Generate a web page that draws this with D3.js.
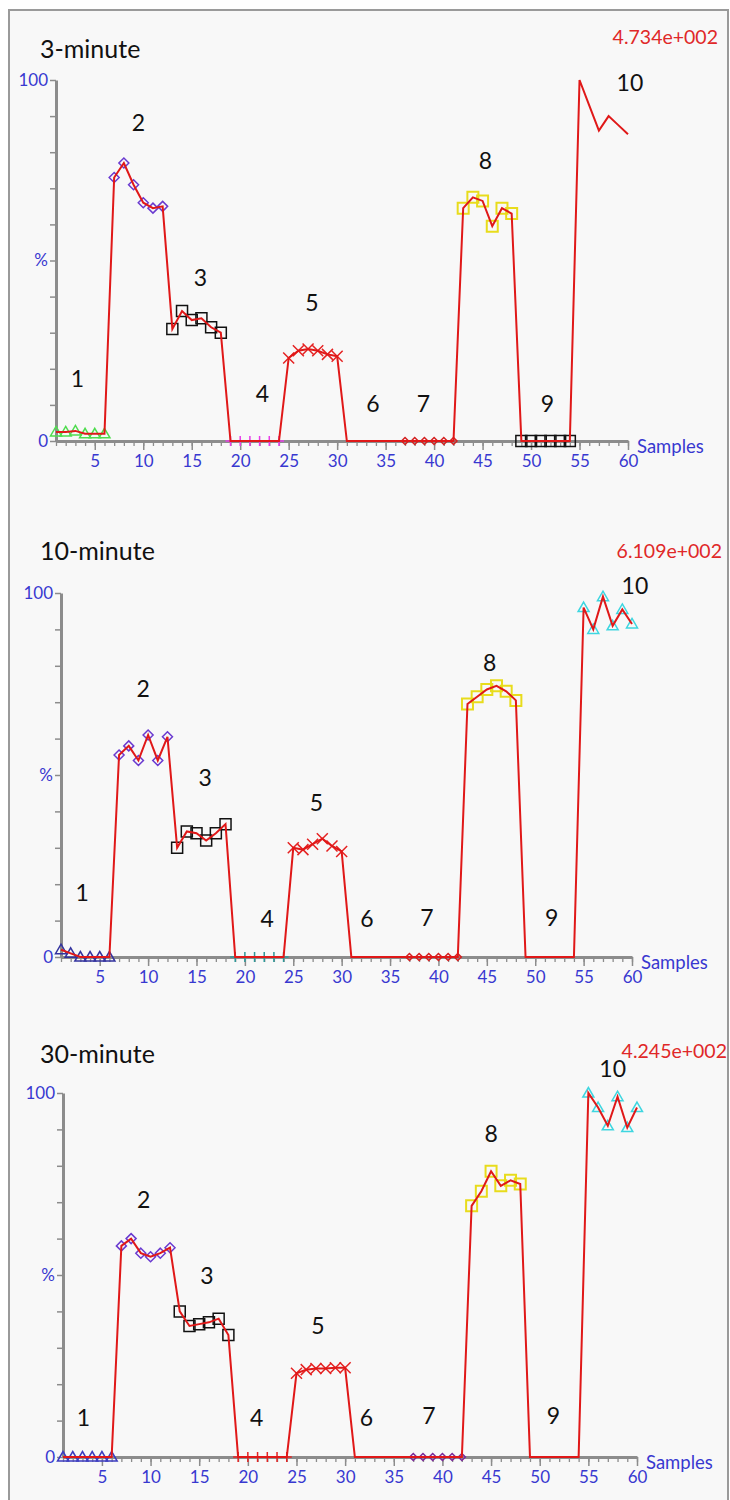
<!DOCTYPE html>
<html lang="en">
<head>
    <meta charset="UTF-8">
    <title>Samples 3 / 10 / 30 minute</title>
    <script src="https://d3js.org/d3.v7.min.js"></script>
    <style>
        body {
            margin: 0;
            background-color: white;
        }
        .title {
            font-family: Lato, sans-serif;
            font-size: 25px;
            fill: #111;
        }
        .maxval {
            font-family: Lato, sans-serif;
            font-size: 19.5px;
            fill: #e02828;
        }
        .group-label {
            font-family: Lato, sans-serif;
            font-size: 23px;
            fill: #111;
        }
        .axis text {
            font-family: Lato, sans-serif;
            font-size: 17px;
            fill: #3838d0;
        }
        .axis path, .axis line {
            stroke: #8c8c8c;
        }
        .samples {
            font-family: Lato, sans-serif;
            font-size: 18.5px;
            fill: #3838d0;
        }
    </style>
</head>
<body>
<script>
    // sample index on the x axis
    const samples = d3.range(1, 61);
    const groupNames = ["1", "2", "3", "4", "5", "6", "7", "8", "9", "10"];

    // % values, one per sample
    const values3 = [
        2.5, 2.5, 2.8, 2, 2, 2,
        73, 77, 71, 66, 64.5, 65,
        31, 36, 33.5, 34, 31.5, 30,
        0, 0, 0, 0, 0, 0,
        23, 25, 25.5, 25, 24, 23.5,
        0, 0, 0, 0, 0, 0,
        0, 0, 0, 0, 0, 0,
        64.5, 67.5, 66.5, 59.5, 64.5, 63,
        0, 0, 0, 0, 0, 0,
        100, 93, 86, 90, 87.5, 85
    ];
    const values10 = [
        2, 1, 0, 0, 0, 0,
        55.5, 58, 54, 61, 54, 60.5,
        30, 34.5, 34, 32, 34, 36.5,
        0, 0, 0, 0, 0, 0,
        30, 29.5, 31, 32.5, 30.5, 29,
        0, 0, 0, 0, 0, 0,
        0, 0, 0, 0, 0, 0,
        69.5, 71.5, 73.5, 74.5, 73, 70.5,
        0, 0, 0, 0, 0, 0,
        96, 90, 99, 91, 95.5, 91.5
    ];
    const values30 = [
        0, 0, 0, 0, 0, 0,
        58, 60, 56, 55, 56, 57.5,
        40, 36, 36.5, 37, 38, 33.5,
        0, 0, 0, 0, 0, 0,
        23, 24, 24.3, 24.3, 24.5, 24.5,
        0, 0, 0, 0, 0, 0,
        0, 0, 0, 0, 0, 0,
        69, 73, 78.5, 74.5, 76, 75,
        0, 0, 0, 0, 0, 0,
        100, 96, 91, 99, 90.5, 96
    ];

    const titles = ["3-minute", "10-minute", "30-minute"];
    const maxLabels = ["4.734e+002", "6.109e+002", "4.245e+002"];

    // where the group numbers sit, in [sample, %]
    const labelAt3 = [[3.2, 17.5], [9.5, 88.4], [15.9, 45.4], [22.3, 13.3], [27.4, 38.5],
        [33.7, 10.5], [38.9, 10.5], [45.3, 77.8], [51.7, 10.5], [60.2, 99.4]];
    const labelAt10 = [[3.2, 17.9], [9.5, 73.9], [15.9, 49.5], [22.3, 10.7], [27.4, 42.6],
        [32.6, 10.7], [38.8, 11], [45.3, 81], [51.7, 11], [60.3, 102.2]];
    const labelAt30 = [[3.1, 11], [9.3, 70.9], [15.8, 50], [20.9, 11], [27.2, 36.3],
        [32.2, 11], [38.6, 11.5], [45, 89], [51.4, 11.5], [57.5, 106.9]];

    // marker style per group (null = line only)
    const markers3 = [["tri", "#4fdc4f"], ["diamond", "#6a3ad0"], ["square", "#111"], ["plus", "#e83ce8"],
        ["x", "#e52222"], null, ["small", "#d42020"], ["square", "#e8dc1c"], ["square", "#111"], null];
    const markers10 = [["tri", "#33339e"], ["diamond", "#6a3ad0"], ["square", "#111"], ["plus", "#2e9898"],
        ["x", "#e52222"], null, ["small", "#d42020"], ["square", "#e8dc1c"], null, ["tri", "#3ed6e0"]];
    const markers30 = [["tri", "#3c3cc0"], ["diamond", "#6a3ad0"], ["square", "#111"], ["plus", "#e52222"],
        ["x", "#e52222"], null, ["small", "#7a2a9a"], ["square", "#e8dc1c"], null, ["tri", "#3ed6e0"]];

    // panel geometry (pixels)
    const layout = [
        {x0: 56, x1: 628, yTop: 80, yBot: 441, titleY: 58, maxX: 718, maxY: 44},
        {x0: 61, x1: 632, yTop: 593, yBot: 957, titleY: 560, maxX: 722, maxY: 558},
        {x0: 63, x1: 637, yTop: 1093, yBot: 1457, titleY: 1063, maxX: 727, maxY: 1058}
    ];

    const panels = [
        {values: values3, labels: labelAt3, markers: markers3},
        {values: values10, labels: labelAt10, markers: markers10},
        {values: values30, labels: labelAt30, markers: markers30}
    ];

    const svg = d3.select("body")
        .append("svg")
        .attr("width", 730)
        .attr("height", 1500);

    svg.append("rect")
        .attr("x", 9).attr("y", 10)
        .attr("width", 719).attr("height", 1500)
        .attr("fill", "#f8f8f8")
        .attr("stroke", "#9a9a9a")
        .attr("stroke-width", 2);

    function markerPath(type) {
        switch (type) {
            case "tri": return "M0,-5.5L5.5,4L-5.5,4Z";
            case "diamond": return "M0,-5L5,0L0,5L-5,0Z";
            case "small": return "M0,-3.5L3.5,0L0,3.5L-3.5,0Z";
            case "square": return "M-5.5,-5.5H5.5V5.5H-5.5Z";
            case "plus": return "M-5,0H5M0,-5V5";
            case "x": return "M-5.5,-5.5L5.5,5.5M-5.5,5.5L5.5,-5.5";
        }
    }

    panels.forEach((p, i) => {
        const L = layout[i];
        const x = d3.scaleLinear().domain([1, 60]).range([L.x0, L.x1]);
        const y = d3.scaleLinear().domain([0, 100]).range([L.yBot, L.yTop]);
        const g = svg.append("g");

        g.append("text").attr("class", "title")
            .attr("x", 40).attr("y", L.titleY)
            .text(titles[i]);
        g.append("text").attr("class", "maxval")
            .attr("x", L.maxX).attr("y", L.maxY)
            .attr("text-anchor", "end")
            .text(maxLabels[i]);

        // y axis
        const yAxis = g.append("g").attr("class", "axis")
            .attr("transform", `translate(${L.x0},0)`)
            .call(d3.axisLeft(y)
                .tickValues(d3.range(0, 101, 10))
                .tickSize(6).tickPadding(2).tickSizeOuter(0)
                .tickFormat(d => d === 100 ? "100" : d === 50 ? "%" : d === 0 ? "0" : ""));
        yAxis.select(".domain").attr("stroke-width", 3);
        yAxis.selectAll("line").attr("stroke-width", 1.5);

        // x axis: minor and major ticks
        const xMinor = g.append("g").attr("class", "axis")
            .attr("transform", `translate(0,${L.yBot})`)
            .call(d3.axisBottom(x).tickValues(samples).tickSize(5).tickSizeOuter(0).tickFormat(""));
        xMinor.select(".domain").attr("stroke-width", 3);
        xMinor.selectAll("line").attr("stroke-width", 1.3);
        const xMajor = g.append("g").attr("class", "axis")
            .attr("transform", `translate(0,${L.yBot})`)
            .call(d3.axisBottom(x).tickValues(d3.range(5, 61, 5)).tickSize(9).tickPadding(5).tickSizeOuter(0));
        xMajor.select(".domain").remove();
        xMajor.selectAll("line").attr("stroke-width", 1.5);

        g.append("text").attr("class", "samples")
            .attr("x", L.x1 + 9).attr("y", L.yBot + 5)
            .attr("dominant-baseline", "central")
            .text("Samples");

        // markers
        const pts = samples.map((s, k) => ({s: s, v: p.values[k], grp: Math.floor(k / 6)}));
        g.selectAll(".mk")
            .data(pts.filter(d => p.markers[d.grp]))
            .enter().append("path")
            .attr("class", "mk")
            .attr("transform", d => `translate(${x(d.s)},${y(d.v)})`)
            .attr("d", d => markerPath(p.markers[d.grp][0]))
            .attr("fill", "none")
            .attr("stroke", d => p.markers[d.grp][1])
            .attr("stroke-width", d => p.markers[d.grp][0] === "square" && p.markers[d.grp][1] !== "#111" ? 2 : 1.5);

        // red trace
        g.append("path")
            .datum(pts)
            .attr("fill", "none")
            .attr("stroke", "#e01818")
            .attr("stroke-width", 2)
            .attr("d", d3.line().x(d => x(d.s)).y(d => y(d.v)));

        g.selectAll(".group-label")
            .data(p.labels)
            .enter().append("text")
            .attr("class", "group-label")
            .attr("x", d => x(d[0]))
            .attr("y", d => y(d[1]))
            .attr("text-anchor", "middle")
            .attr("dominant-baseline", "central")
            .text((d, k) => groupNames[k]);
    });
</script>
</body>
</html>
